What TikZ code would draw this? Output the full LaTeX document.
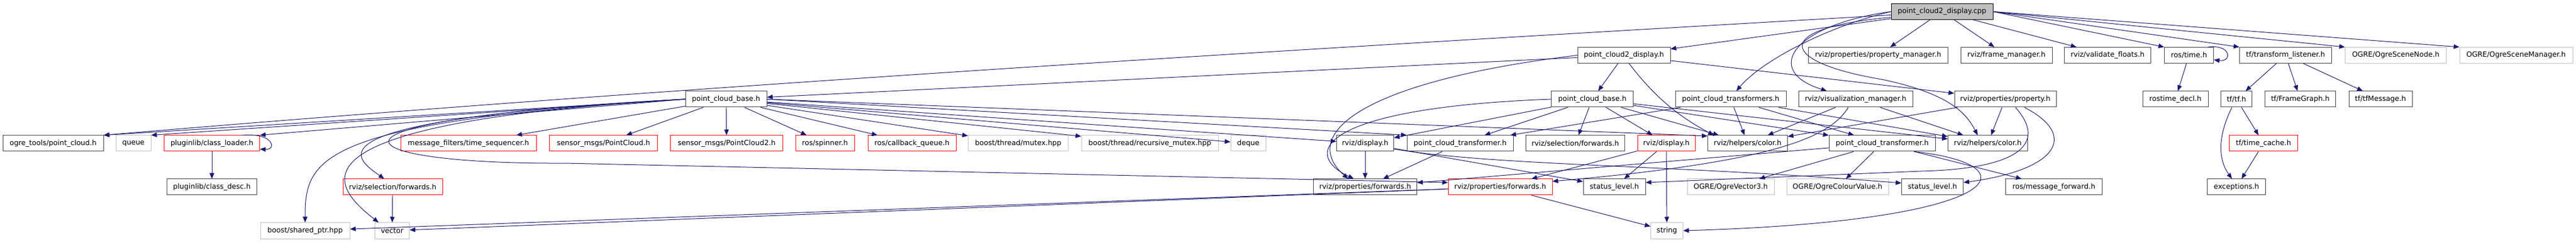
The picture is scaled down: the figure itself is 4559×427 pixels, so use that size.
\documentclass[tikz,border=0pt]{standalone}
\usepackage{fontspec}
\setmainfont{DejaVu Sans}
\usetikzlibrary{arrows.meta}
\definecolor{edgeblue}{HTML}{191970}
\definecolor{boxgray}{HTML}{BFBFBF}
\definecolor{boxdark}{HTML}{404040}

\begin{document}
\begin{tikzpicture}[x=1pt,y=-1pt,
	hdr/.style={draw=boxdark,line width=1pt,minimum height=28pt,inner sep=0pt,font=\fontsize{12.6}{14}\selectfont},
	redhdr/.style={hdr,draw=red},
	syshdr/.style={hdr,draw=boxgray},
	roothdr/.style={hdr,draw=black,fill=boxgray},
	dep/.style={edgeblue,line width=1pt,-{Triangle[length=10pt,width=8pt]}}]
	\useasboundingbox (0,0) rectangle (4559,427);
	% top
	\node[roothdr,minimum width=180pt] (root) at (3437,20.5) {point\_cloud2\_display.cpp};
	% row 1
	\node[hdr,minimum width=164pt] (pcdh) at (2874,97.5) {point\_cloud2\_display.h};
	\node[hdr,minimum width=247pt] (propmgr) at (3324,97.5) {rviz/properties/property\_manager.h};
	\node[hdr,minimum width=162pt] (framemgr) at (3551,97.5) {rviz/frame\_manager.h};
	\node[hdr,minimum width=153pt] (validf) at (3730,97.5) {rviz/validate\_floats.h};
	\node[hdr,minimum width=87pt] (rostime) at (3874,97.5) {ros/time.h};
	\node[hdr,minimum width=163pt] (tflist) at (4045,97.5) {tf/transform\_listener.h};
	\node[syshdr,minimum width=179pt] (ogrenode) at (4240,97.5) {OGRE/OgreSceneNode.h};
	\node[syshdr,minimum width=200pt] (ogremgr) at (4453,97.5) {OGRE/OgreSceneManager.h};
	% row 2
	\node[hdr,minimum width=144pt] (pcbA) at (1285,175) {point\_cloud\_base.h};
	\node[hdr,minimum width=145pt] (pcbB) at (2818,175) {point\_cloud\_base.h};
	\node[hdr,minimum width=196pt] (pcts) at (3063,175) {point\_cloud\_transformers.h};
	\node[hdr,minimum width=202pt] (vismgr) at (3284,175) {rviz/visualization\_manager.h};
	\node[hdr,minimum width=180pt] (prop) at (3549,175) {rviz/properties/property.h};
	\node[hdr,minimum width=116pt] (rtdecl) at (3850,175) {rostime\_decl.h};
	\node[hdr,minimum width=55pt] (tftf) at (3958,175) {tf/tf.h};
	\node[hdr,minimum width=125pt] (fgraph) at (4071,175) {tf/FrameGraph.h};
	\node[hdr,minimum width=112pt] (tfmsg) at (4213,175) {tf/tfMessage.h};
	% row 3
	\node[hdr,minimum width=178pt] (ogrept) at (94,253) {ogre\_tools/point\_cloud.h};
	\node[syshdr,minimum width=62pt] (queue) at (236,253) {queue};
	\node[redhdr,minimum width=169pt] (cloader) at (375,253) {pluginlib/class\_loader.h};
	\node[redhdr,minimum width=240pt] (tseq) at (829,253) {message\_filters/time\_sequencer.h};
	\node[redhdr,minimum width=191pt] (pcmsg) at (1068,253) {sensor\_msgs/PointCloud.h};
	\node[redhdr,minimum width=199pt] (pc2msg) at (1286,253) {sensor\_msgs/PointCloud2.h};
	\node[redhdr,minimum width=104pt] (spinner) at (1460,253) {ros/spinner.h};
	\node[redhdr,minimum width=156pt] (cbq) at (1614,253) {ros/callback\_queue.h};
	\node[syshdr,minimum width=177pt] (mutex) at (1802,253) {boost/thread/mutex.hpp};
	\node[syshdr,minimum width=242pt] (rmutex) at (2035,253) {boost/thread/recursive\_mutex.hpp};
	\node[syshdr,minimum width=62pt] (deque) at (2209,253) {deque};
	\node[hdr,minimum width=101pt] (dispA) at (2416,253) {rviz/display.h};
	\node[hdr,minimum width=188pt] (pctA) at (2584,253) {point\_cloud\_transformer.h};
	\node[hdr,minimum width=175pt] (selfwdA) at (2788,253) {rviz/selection/forwards.h};
	\node[redhdr,minimum width=102pt] (dispB) at (2949,253) {rviz/display.h};
	\node[hdr,minimum width=141pt] (colorA) at (3093,253) {rviz/helpers/color.h};
	\node[hdr,minimum width=188pt] (pctB) at (3331,253) {point\_cloud\_transformer.h};
	\node[hdr,minimum width=141pt] (colorB) at (3518,253) {rviz/helpers/color.h};
	\node[redhdr,minimum width=121pt] (tcache) at (4006,253) {tf/time\_cache.h};
	% row 4
	\node[hdr,minimum width=159pt] (cdesc) at (375,330) {pluginlib/class\_desc.h};
	\node[redhdr,minimum width=176pt] (selfwdB) at (695,330) {rviz/selection/forwards.h};
	\node[hdr,minimum width=183pt] (pfwdA) at (2416,330) {rviz/properties/forwards.h};
	\node[redhdr,minimum width=184pt] (pfwdB) at (2655,330) {rviz/properties/forwards.h};
	\node[hdr,minimum width=110pt] (slevelA) at (2857,330) {status\_level.h};
	\node[syshdr,minimum width=154pt] (vec3) at (3063,330) {OGRE/OgreVector3.h};
	\node[syshdr,minimum width=180pt] (colval) at (3252,330) {OGRE/OgreColourValue.h};
	\node[hdr,minimum width=109pt] (slevelB) at (3420,330) {status\_level.h};
	\node[hdr,minimum width=171pt] (msgfwd) at (3635,330) {ros/message\_forward.h};
	\node[hdr,minimum width=103pt] (exc) at (3958,330) {exceptions.h};
	% row 5
	\node[syshdr,minimum width=158pt] (sptr) at (540,407) {boost/shared\_ptr.hpp};
	\node[syshdr,minimum width=61pt] (vector) at (694,407) {vector};
	\node[syshdr,minimum width=57pt] (string) at (2950,407) {string};

	% from the .cpp
	\draw[dep] ([yshift=-6pt]root.west) .. controls (2292,87) and (1238,150) .. (ogrept.north east);
	\draw[dep] (root) -- (pcdh);
	\draw[dep] (root) -- (propmgr);
	\draw[dep] (root) -- (framemgr);
	\draw[dep] (root) -- (validf);
	\draw[dep] (root.east) -- (rostime.north west);
	\draw[dep] (root.east) -- (tflist.north west);
	\draw[dep] (root.east) -- (ogrenode.north west);
	\draw[dep] (root.east) -- (ogremgr.north west);
	\draw[dep] (root.west) .. controls (3240,45) and (3120,105) .. ([xshift=10pt]pcts.north);
	\draw[dep] (root.west) .. controls (3170,45) and (3120,125) .. ([xshift=-51pt]vismgr.north);
	\draw[dep] ([yshift=-10pt]root.west) .. controls (3130,50) and (3150,110) .. (3330,140) .. controls (3450,165) and (3480,200) .. ([xshift=-18pt]colorB.north);
	% point_cloud2_display.h
	\draw[dep] (pcdh) -- (pcbA);
	\draw[dep] (pcdh.west) .. controls (2400,145) and (2300,240) .. ([xshift=-30pt]pfwdA.north);
	\draw[dep] (pcdh) -- (pcbB);
	\draw[dep] ([xshift=9pt]pcdh.south) .. controls (2920,160) and (2960,200) .. ([xshift=-60pt]colorA.north);
	\draw[dep] (pcdh) -- (prop);
	% first point_cloud_base.h
	\draw[dep] (pcbA.west) -- (ogrept.north east);
	\draw[dep] (pcbA.west) -- (queue.north east);
	\draw[dep] (pcbA.west) -- (cloader.north east);
	\draw[dep] (pcbA) -- (tseq);
	\draw[dep] (pcbA) -- (pcmsg);
	\draw[dep] (pcbA) -- (pc2msg);
	\draw[dep] (pcbA) -- (spinner);
	\draw[dep] (pcbA) -- (cbq);
	\draw[dep] (pcbA) -- (mutex);
	\draw[dep] (pcbA) -- (rmutex);
	\draw[dep] (pcbA) -- (deque);
	\draw[dep] (pcbA) -- (dispA);
	\draw[dep] (pcbA.east) -- (pctA.north west);
	\draw[dep] (pcbA.east) -- ([yshift=13pt]colorA.west);
	\draw[dep] (pcbA.west) .. controls (560,215) and (540,280) .. (sptr.north);
	\draw[dep] (pcbA.west) .. controls (480,218) and (590,330) .. ([xshift=-24pt]vector.north);
	\draw[dep] (pcbA.west) .. controls (520,212) and (630,280) .. ([xshift=-15pt]selfwdB.north);
	\draw[dep] (pcbA.west) .. controls (500,212) and (600,290) .. (1000,288) -- ([yshift=8pt]pfwdB.west);
	% second point_cloud_base.h
	\draw[dep] (pcbB) -- (dispA);
	\draw[dep] (pcbB.west) .. controls (2340,190) and (2300,270) .. ([xshift=-20pt]pfwdA.north);
	\draw[dep] (pcbB) -- (pctA);
	\draw[dep] (pcbB) -- (selfwdA);
	\draw[dep] (pcbB) -- (dispB);
	\draw[dep] (pcbB) -- (colorA);
	\draw[dep] (pcbB) -- (pctB);
	\draw[dep] (pcbB) -- (colorB);
	% point_cloud_transformers.h
	\draw[dep] (pcts) -- (pctA);
	\draw[dep] (pcts) -- (colorA);
	\draw[dep] (pcts) -- (pctB);
	\draw[dep] (pcts) -- (colorB);
	% rviz/visualization_manager.h
	\draw[dep] (vismgr) -- (colorA);
	\draw[dep] ([xshift=-13pt]vismgr.south) .. controls (3240,240) and (3150,285) .. ([yshift=10pt]pfwdB.east);
	\draw[dep] (vismgr) -- (colorB);
	% rviz/properties/property.h
	\draw[dep] (prop) -- (colorA);
	\draw[dep] (prop) -- (colorB);
	\draw[dep] ([xshift=18pt]prop.south) .. controls (3625,255) and (3570,298) .. (3400,302) -- ([yshift=8pt]slevelA.east);
	\draw[dep] ([xshift=34pt]prop.south) .. controls (3680,240) and (3640,300) .. ([yshift=8pt]slevelB.east);
	% row 3 headers
	\draw[dep] (dispA) -- (pfwdA);
	\draw[dep] (dispA) -- (slevelA);
	\draw[dep] ([yshift=-10pt]dispA.east) .. controls (2650,293) and (2950,290) .. ([yshift=7pt]slevelB.west);
	\draw[dep] (pctA) -- (pfwdA);
	\draw[dep] (dispB) -- (pfwdB);
	\draw[dep] (dispB) -- (slevelA);
	\draw[dep] (dispB) -- (string);
	\draw[dep] (pctB) -- (vec3);
	\draw[dep] (pctB) -- (colval);
	\draw[dep] (pctB) -- (msgfwd);
	\draw[dep] ([xshift=56pt]pctB.south) .. controls (3600,290) and (3560,390) .. (string.east);
	\draw[dep] (pctB) -- (pfwdA);
	% row 4 headers
	\draw[dep] (pfwdB) -- (sptr);
	\draw[dep] (pfwdB) -- (vector);
	\draw[dep] (pfwdB) -- (string);
	\draw[dep] (selfwdB) -- (vector);
	% pluginlib
	\draw[dep] (cloader) -- (cdesc);
	\draw[dep] ([xshift=-30pt]cloader.north east) .. controls (485,234) and (490,265) .. ([yshift=-10pt]cloader.east);
	% ros and tf
	\draw[dep] (rostime) -- (rtdecl);
	\draw[dep] ([xshift=-10pt]rostime.north east) .. controls (3950,78) and (3950,110) .. ([yshift=-8pt]rostime.east);
	\draw[dep] (tflist) -- (tftf);
	\draw[dep] (tflist) -- (fgraph);
	\draw[dep] (tflist) -- (tfmsg);
	\draw[dep] (tftf) -- (tcache);
	\draw[dep] ([xshift=-8pt]tftf.south) .. controls (3925,240) and (3925,280) .. ([xshift=-8pt]exc.north);
	\draw[dep] (tcache) -- (exc);
\end{tikzpicture}
\end{document}
